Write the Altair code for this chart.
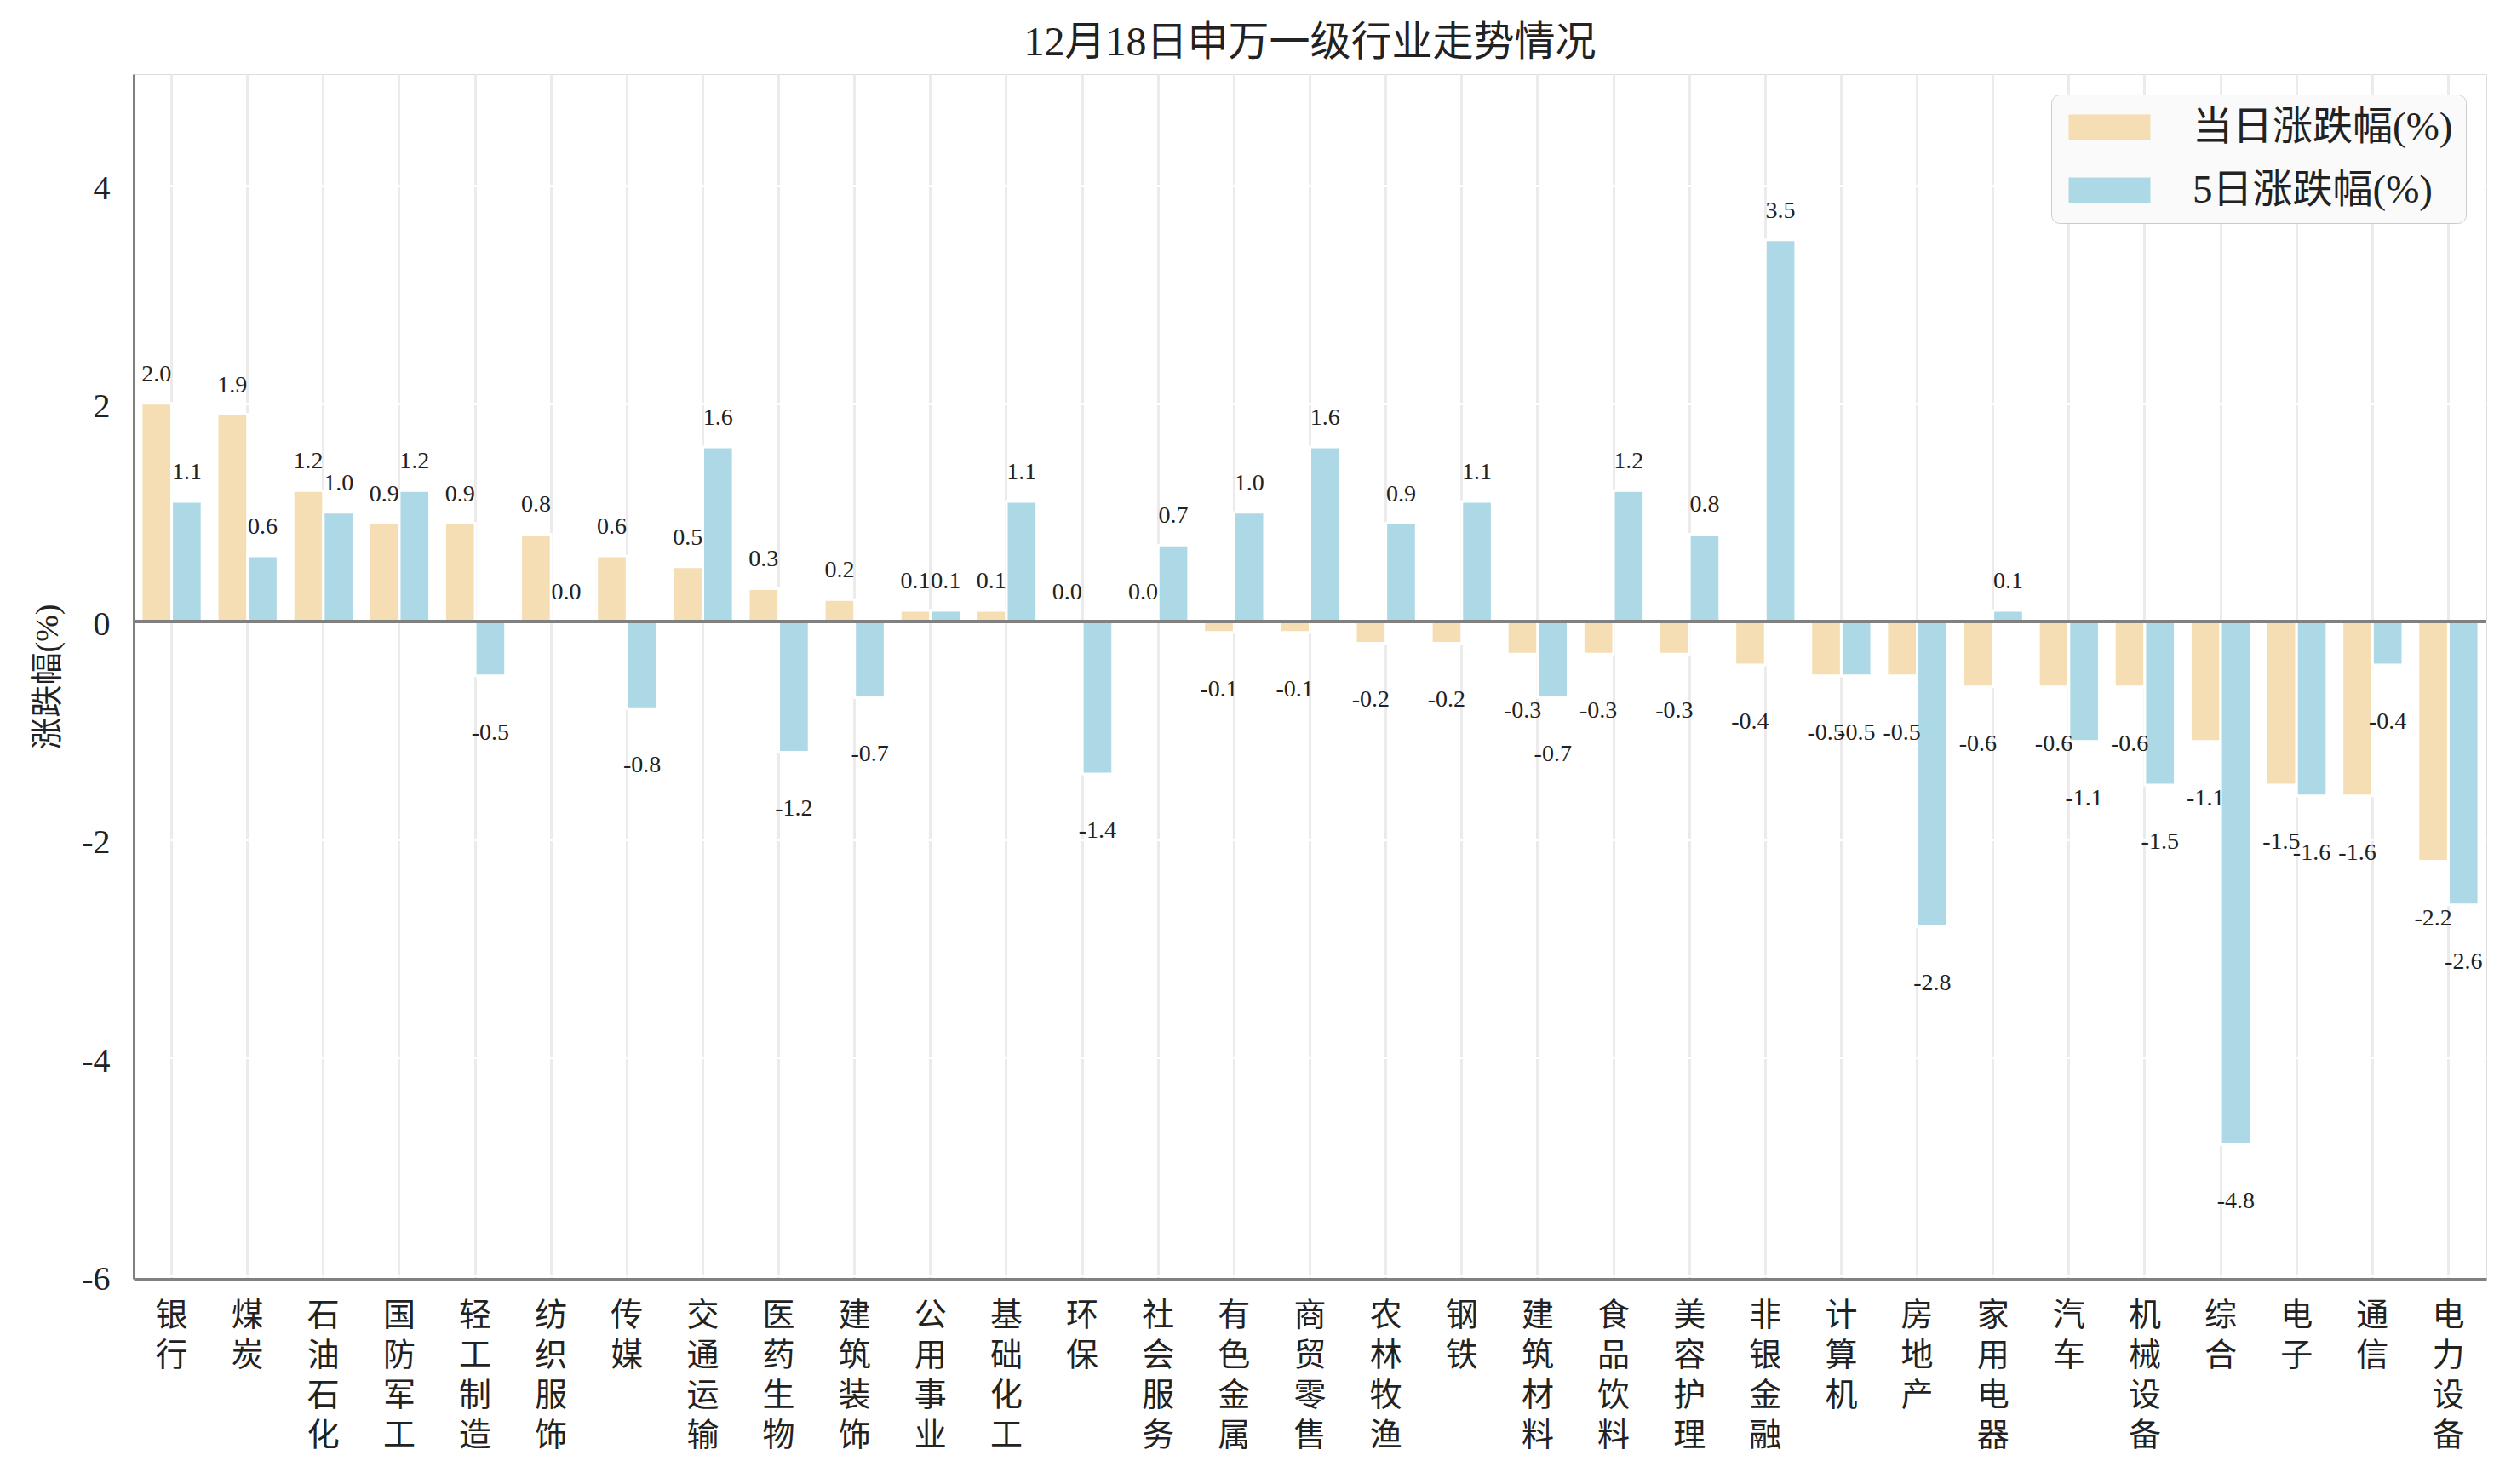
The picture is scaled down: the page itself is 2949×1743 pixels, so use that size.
import altair as alt
import pandas as pd

industries = ["银行", "煤炭", "石油石化", "国防军工", "轻工制造", "纺织服饰", "传媒", "交通运输",
              "医药生物", "建筑装饰", "公用事业", "基础化工", "环保", "社会服务", "有色金属", "商贸零售",
              "农林牧渔", "钢铁", "建筑材料", "食品饮料", "美容护理", "非银金融", "计算机", "房地产",
              "家用电器", "汽车", "机械设备", "综合", "电子", "通信", "电力设备"]
daily = [2.0, 1.9, 1.2, 0.9, 0.9, 0.8, 0.6, 0.5, 0.3, 0.2, 0.1, 0.1, 0.0, 0.0, -0.1, -0.1,
         -0.2, -0.2, -0.3, -0.3, -0.3, -0.4, -0.5, -0.5, -0.6, -0.6, -0.6, -1.1, -1.5, -1.6, -2.2]
five_day = [1.1, 0.6, 1.0, 1.2, -0.5, 0.0, -0.8, 1.6, -1.2, -0.7, 0.1, 1.1, -1.4, 0.7, 1.0, 1.6,
            0.9, 1.1, -0.7, 1.2, 0.8, 3.5, -0.5, -2.8, 0.1, -1.1, -1.5, -4.8, -1.6, -0.4, -2.6]
series_names = ["当日涨跌幅(%)", "5日涨跌幅(%)"]
colors = ["#f5deb3", "#add8e6"]
y_ticks = [-6, -4, -2, 0, 2, 4]

rows = []
for i, name in enumerate(industries):
    rows.append({"industry": name, "series": series_names[0], "value": daily[i]})
    rows.append({"industry": name, "series": series_names[1], "value": five_day[i]})
df = pd.DataFrame(rows)

FONT = "Liberation Serif, Noto Sans CJK SC"
TXT = "#222222"

x = alt.X(
    "industry:N",
    sort=industries,
    title=None,
    scale=alt.Scale(paddingInner=0.2, paddingOuter=0.1),
    axis=alt.Axis(
        labelExpr="split(datum.label, '')",
        labelAngle=0,
        labelBaseline="top",
        labelPadding=24,
        labelFont=FONT,
        labelFontSize=38,
        labelLineHeight=47,
        labelColor=TXT,
        labelOverlap=False,
        labelLimit=0,
        ticks=False,
        bandPosition=0.5,
        domainColor="#808080",
        domainWidth=3,
        grid=True,
        gridColor="#ebebeb",
        gridWidth=3,
    ),
)
xoff = alt.XOffset("series:N", sort=series_names, scale=alt.Scale(paddingInner=0, paddingOuter=0))
y = alt.Y(
    "value:Q",
    title="涨跌幅(%)",
    scale=alt.Scale(domain=[-6.03, 5.02], nice=False, zero=False),
    axis=alt.Axis(
        values=y_ticks,
        format="d",
        labelExpr="replace(datum.label, '\u2212', '-')",
        labelFont=FONT,
        labelFontSize=40,
        labelColor=TXT,
        labelPadding=28,
        labelOffset=4,
        ticks=False,
        domainColor="#808080",
        domainWidth=3,
        grid=True,
        gridColor="#ffffff",
        gridWidth=3,
        titleFont=FONT,
        titleFontSize=38,
        titleFontWeight="normal",
        titleColor=TXT,
        titlePadding=20,
    ),
)

bars = alt.Chart(df).mark_bar(stroke="white", strokeWidth=3).encode(
    x=x,
    xOffset=xoff,
    y=y,
    color=alt.Color(
        "series:N",
        sort=series_names,
        scale=alt.Scale(domain=series_names, range=colors),
        legend=alt.Legend(
            title=None,
            orient="top-right",
            offset=24,
            padding=15,
            fillColor="#fafafa",
            strokeColor="#cccccc",
            cornerRadius=10,
            symbolType="M-3.2,-1H3.2V1H-3.2Z",
            symbolSize=900,
            symbolOffset=30,
            symbolStrokeWidth=0,
            symbolOpacity=1,
            labelFont=FONT,
            labelFontSize=47,
            labelColor=TXT,
            labelOffset=74,
            labelLimit=0,
            labelExpr="datum.label + '\u2002'",
            rowPadding=26,
        ),
    ),
)

zero = alt.Chart(df).mark_rule(color="#808080", strokeWidth=3).encode(y=alt.datum(0))

labels = alt.Chart(df).transform_calculate(
    label="replace(format(datum.value, '.1f'), '\u2212', '-')"
)

pos = labels.transform_filter("datum.value >= 0").mark_text(
    font=FONT, fontSize=28, baseline="alphabetic", dy=-26, color=TXT
).encode(x=x, xOffset=xoff, y=y, text="label:N")

neg = labels.transform_filter("datum.value < 0").mark_text(
    font=FONT, fontSize=28, baseline="alphabetic", dy=75, color=TXT
).encode(x=x, xOffset=xoff, y=y, text="label:N")

chart = alt.layer(bars, zero, pos, neg).properties(
    width=2763,
    height=1415,
    autosize=alt.AutoSizeParams(type="none"),
    padding={"left": 149, "top": 79, "right": 20, "bottom": 225},
    title=alt.Title(
        "12月18日申万一级行业走势情况",
        font=FONT,
        fontSize=48,
        fontWeight="normal",
        color=TXT,
        anchor="middle",
        offset=12,
    ),
).configure_view(fill="#f5f5f5", strokeWidth=0).configure_legend(strokeWidth=3).configure(background="white")

chart.save("out.html", embed_options={"renderer": "svg", "actions": False})
